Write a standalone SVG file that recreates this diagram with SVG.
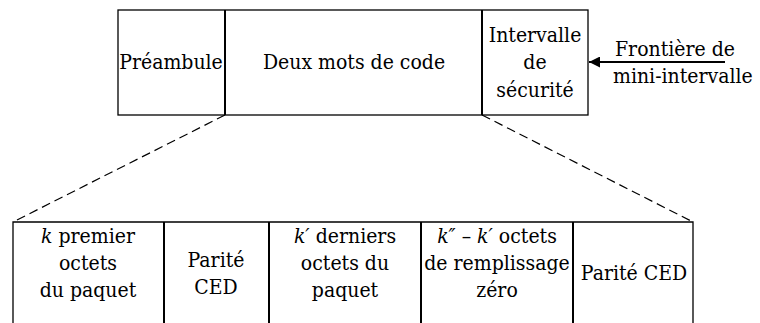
<svg xmlns="http://www.w3.org/2000/svg" width="760" height="323" viewBox="0 0 760 323" font-family="'DejaVu Serif', serif" font-size="21" font-stretch="condensed">
  <style>
    .c { text-anchor: middle; }
    .it { font-style: italic; }
    .frame { fill: none; stroke: #000; stroke-width: 1.3; }
    .div { stroke: #000; stroke-width: 2; }
    .dash { fill: none; stroke: #000; stroke-width: 1.2; stroke-dasharray: 9 5; }
    .arrow { stroke: #000; stroke-width: 2; }
  </style>
  <defs>
    <marker id="head" viewBox="0 0 10 10" refX="10" refY="5" markerWidth="18" markerHeight="11" markerUnits="userSpaceOnUse" orient="auto">
      <path d="M0,0 L10,5 L0,10 z" fill="#000"/>
    </marker>
  </defs>

  <!-- Upper slot: preamble, two codewords, guard interval -->
  <g id="slot">
    <rect class="frame" x="118" y="10" width="470" height="105"/>
    <line class="div" x1="225" y1="10" x2="225" y2="115"/>
    <line class="div" x1="482" y1="10" x2="482" y2="115"/>
  </g>
  <g id="preambule">
    <text x="171" y="69" class="c">Préambule</text>
  </g>
  <g id="mots-de-code">
    <text x="354" y="69" class="c">Deux mots de code</text>
  </g>
  <g id="intervalle">
    <text x="535" y="42" class="c">Intervalle</text>
    <text x="535" y="69" class="c">de</text>
    <text x="535" y="97" class="c">sécurité</text>
  </g>
  <g id="frontiere">
    <text x="615" y="56">Frontière de</text>
    <text x="613" y="83">mini-intervalle</text>
  </g>

  <!-- Lower expanded codeword layout -->
  <g id="codeword-row">
    <polyline class="frame" points="13,323 13,222 693,222 693,323"/>
    <line class="div" x1="164" y1="222" x2="164" y2="323"/>
    <line class="div" x1="269" y1="222" x2="269" y2="323"/>
    <line class="div" x1="421" y1="222" x2="421" y2="323"/>
    <line class="div" x1="573" y1="222" x2="573" y2="323"/>
  </g>
  <g id="premiers-octets">
    <text x="88" y="243" class="c"><tspan class="it">k</tspan> premier</text>
    <text x="88" y="270" class="c">octets</text>
    <text x="88" y="297" class="c">du paquet</text>
  </g>
  <g id="parite-1">
    <text x="216" y="267" class="c">Parité</text>
    <text x="216" y="294" class="c">CED</text>
  </g>
  <g id="derniers-octets">
    <text x="345" y="243" class="c"><tspan class="it">k′</tspan> derniers</text>
    <text x="345" y="270" class="c">octets du</text>
    <text x="345" y="297" class="c">paquet</text>
  </g>
  <g id="remplissage">
    <text x="497" y="243" class="c"><tspan class="it">k″</tspan> – <tspan class="it">k′</tspan> octets</text>
    <text x="497" y="270" class="c">de remplissage</text>
    <text x="497" y="297" class="c">zéro</text>
  </g>
  <g id="parite-2">
    <text x="634" y="280" class="c">Parité CED</text>
  </g>

  <!-- Connectors -->
  <g id="connectors">
    <line class="dash" x1="225" y1="115" x2="13" y2="222"/>
    <line class="dash" x1="482" y1="115" x2="693" y2="222"/>
    <line class="arrow" x1="725" y1="62" x2="589" y2="62" marker-end="url(#head)"/>
  </g>
</svg>
